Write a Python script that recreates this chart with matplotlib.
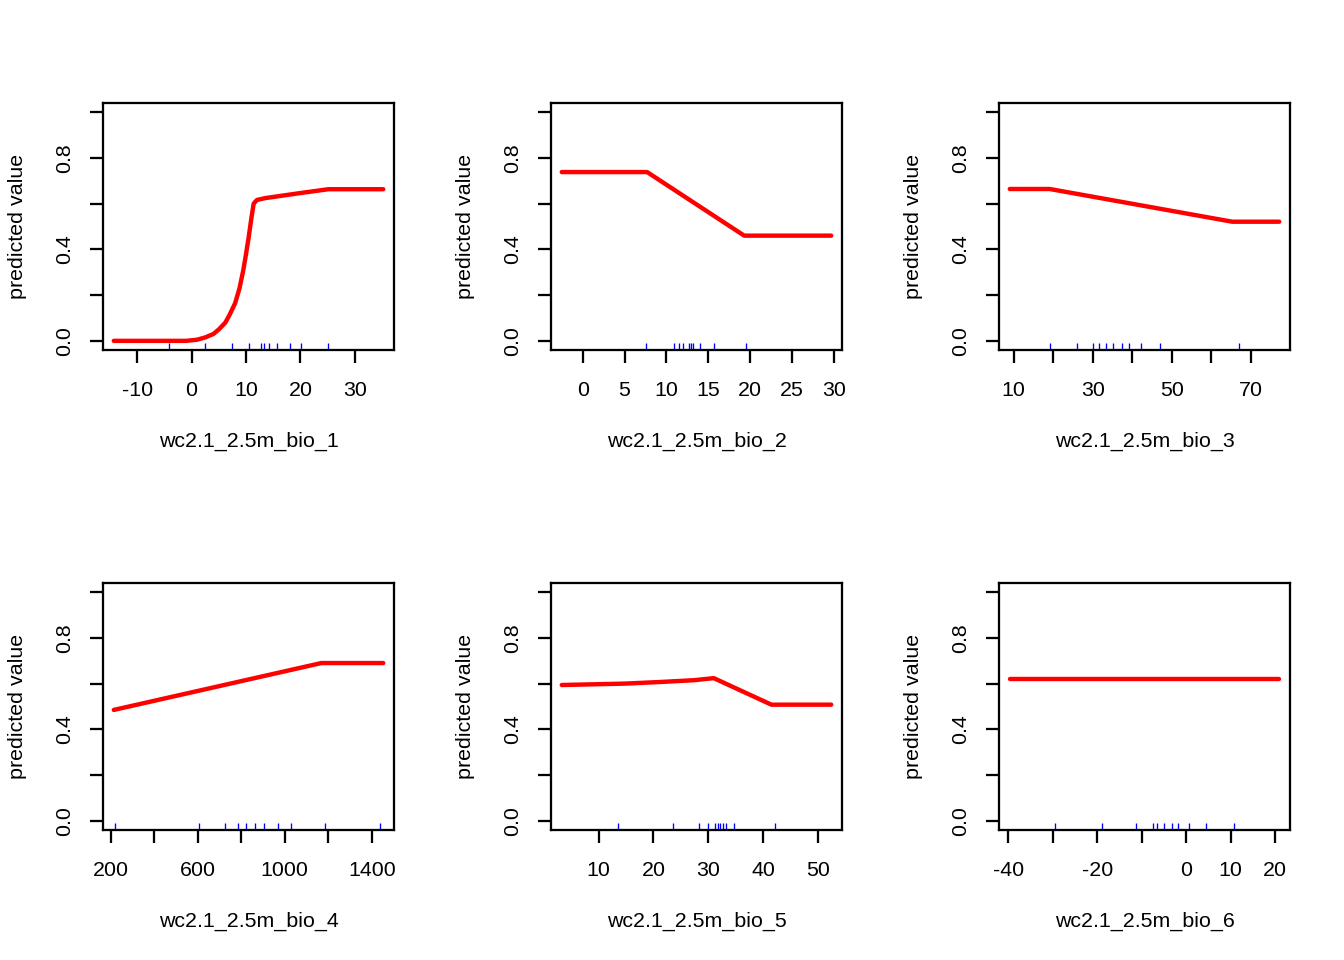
import matplotlib
matplotlib.use("Agg")
import matplotlib.pyplot as plt

plt.rcParams["font.family"] = ["Liberation Sans", "DejaVu Sans"]

# response curves (x, predicted value)
bio1_x = [-14.3, -1.0, 1.0, 2.5, 4.0, 5.0, 6.2, 7.0, 8.0, 8.8, 9.5, 10.0, 10.5, 11.0, 11.4, 12.0, 13.5, 19.6, 25.1, 35.2]
bio1_y = [0.0, 0.0, 0.005, 0.015, 0.03, 0.05, 0.08, 0.115, 0.165, 0.23, 0.31, 0.38, 0.456, 0.54, 0.60, 0.616, 0.624, 0.645, 0.663, 0.663]
bio2_x = [-2.5, 7.7, 19.3, 29.7]
bio2_y = [0.738, 0.738, 0.46, 0.46]
bio3_x = [9.0, 19.1, 65.3, 77.2]
bio3_y = [0.664, 0.664, 0.521, 0.521]
bio4_x = [215, 1168, 1452]
bio4_y = [0.485, 0.69, 0.69]
bio5_x = [3.3, 14.7, 21.1, 27.4, 31.0, 41.5, 52.4]
bio5_y = [0.594, 0.600, 0.607, 0.615, 0.624, 0.508, 0.508]
bio6_x = [-39.7, 20.9]
bio6_y = [0.621, 0.621]

# rug (sample quantiles)
bio1_rug = [-4.2, 2.5, 7.4, 10.6, 12.7, 13.3, 14.3, 15.7, 18.1, 20.1, 25.0]
bio2_rug = [7.55, 10.9, 11.5, 12.0, 12.7, 13.0, 13.2, 14.0, 15.7, 19.5]
bio3_rug = [19.2, 26.0, 30.1, 31.5, 33.3, 35.2, 37.3, 39.1, 42.2, 46.9, 67.1]
bio4_rug = [221, 606, 727, 785, 821, 863, 904, 968, 1027, 1185, 1437]
bio5_rug = [13.5, 23.6, 28.3, 29.9, 31.2, 31.7, 32.2, 32.7, 33.3, 34.7, 42.2]
bio6_rug = [-29.6, -19.0, -11.4, -7.6, -6.5, -5.0, -3.3, -1.85, 0.6, 4.4, 10.7]

# x ticks and their labels ("" = label dropped)
bio1_ticks = [-10, 0, 10, 20, 30]
bio1_labels = ["-10", "0", "10", "20", "30"]
bio2_ticks = [0, 5, 10, 15, 20, 25, 30]
bio2_labels = ["0", "5", "10", "15", "20", "25", "30"]
bio3_ticks = [10, 20, 30, 40, 50, 60, 70]
bio3_labels = ["10", "", "30", "", "50", "", "70"]
bio4_ticks = [200, 400, 600, 800, 1000, 1200, 1400]
bio4_labels = ["200", "", "600", "", "1000", "", "1400"]
bio5_ticks = [10, 20, 30, 40, 50]
bio5_labels = ["10", "20", "30", "40", "50"]
bio6_ticks = [-40, -30, -20, -10, 0, 10, 20]
bio6_labels = ["-40", "", "-20", "", "0", "10", "20"]

y_ticks = [0.0, 0.2, 0.4, 0.6, 0.8, 1.0]
y_labels = ["0.0", "", "0.4", "", "0.8", ""]

names = ["wc2.1_2.5m_bio_%d" % i for i in range(1, 7)]
panels = [
    (bio1_x, bio1_y, bio1_rug, bio1_ticks, bio1_labels),
    (bio2_x, bio2_y, bio2_rug, bio2_ticks, bio2_labels),
    (bio3_x, bio3_y, bio3_rug, bio3_ticks, bio3_labels),
    (bio4_x, bio4_y, bio4_rug, bio4_ticks, bio4_labels),
    (bio5_x, bio5_y, bio5_rug, bio5_ticks, bio5_labels),
    (bio6_x, bio6_y, bio6_rug, bio6_ticks, bio6_labels),
]

fig = plt.figure(figsize=(14, 10), dpi=96)
lefts = [103 / 1344, 551 / 1344, 999 / 1344]
bottoms = [1 - 350 / 960, 1 - 830 / 960]
w, h = 291 / 1344, 247 / 960

for i, (xs, ys, rug, ticks, labels) in enumerate(panels):
    ax = fig.add_axes([lefts[i % 3], bottoms[i // 3], w, h])
    ax.plot(xs, ys, color="red", lw=3.3, solid_capstyle="round", solid_joinstyle="round")
    ax.vlines(rug, 0, 0.028, color="blue", lw=1.0, transform=ax.get_xaxis_transform())
    lo, hi = min(xs), max(xs)
    pad = (hi - lo) * 0.04
    ax.set_xlim(lo - pad, hi + pad)
    ax.set_ylim(-0.04, 1.04)
    ax.set_xticks(ticks)
    ax.set_xticklabels(labels)
    ax.set_yticks(y_ticks)
    ax.set_yticklabels(y_labels, rotation=90, va="center")
    ax.tick_params(axis="both", length=9.5, width=1.7, labelsize=16, color="black")
    ax.tick_params(axis="x", pad=14)
    ax.tick_params(axis="y", pad=12)
    for s in ax.spines.values():
        s.set_linewidth(1.7)
    ax.set_xlabel(names[i], fontsize=16)
    ax.set_ylabel("predicted value", fontsize=16)
    ax.xaxis.set_label_coords(0.5, -0.368)
    ax.xaxis.label.set_va("center")
    ax.yaxis.set_label_coords(-0.2955, 0.5)
    ax.yaxis.label.set_va("center")

fig.savefig("out.png", dpi=96)
